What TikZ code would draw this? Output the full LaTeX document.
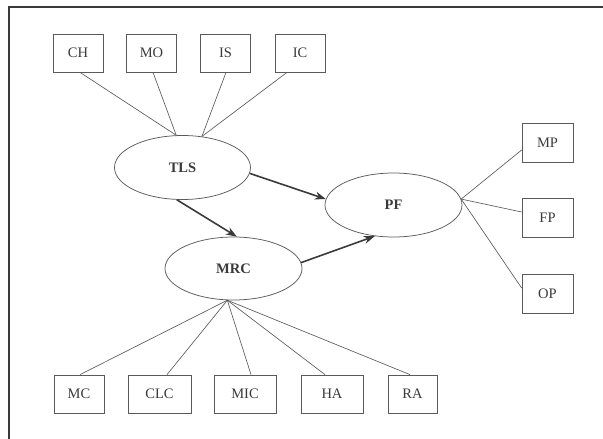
\documentclass[tikz,border=0pt]{standalone}
\usepackage{fontspec}
\setmainfont{Liberation Serif}
\usetikzlibrary{shapes.geometric,arrows.meta}
\definecolor{ink}{HTML}{3A3A3A}
\definecolor{thin}{HTML}{5A5A5A}
\begin{document}
\begin{tikzpicture}[x=1pt,y=-1pt,
  box/.style={draw=thin,line width=0.75pt,rectangle,inner sep=0pt,minimum height=38pt,text=ink,font=\fontsize{14.5}{17}\selectfont},
  lat/.style={draw=thin,line width=0.75pt,ellipse,inner sep=0pt,minimum width=136pt,minimum height=64pt,text=ink,font=\fontsize{14.5}{17}\selectfont\bfseries},
  link/.style={draw=thin,line width=0.65pt},
  path/.style={draw=ink,line width=1.6pt,-{Stealth[length=11pt,width=8pt]}}]
\useasboundingbox (0,0) rectangle (603,439);
\draw[draw=ink,line width=1.2pt] (9,447) -- (9,7) -- (612,7);
% latent variables
\node[lat] (TLS) at (182.5,167.5) {TLS};
\node[lat,minimum width=137pt] (PF) at (393.5,205) {PF};
\node[lat,minimum width=137pt,minimum height=63pt] (MRC) at (233.5,268.5) {MRC};
% top indicators
\node[box,minimum width=50pt] (CH) at (78,53) {CH};
\node[box,minimum width=50pt] (MO) at (151.5,53) {MO};
\node[box,minimum width=50pt] (IS) at (225.5,53) {IS};
\node[box,minimum width=50pt] (IC) at (300,53) {IC};
% right indicators
\node[box,minimum width=51pt,minimum height=39pt] (MP) at (547.5,142.5) {MP};
\node[box,minimum width=51pt,minimum height=39pt] (FP) at (547.5,218) {FP};
\node[box,minimum width=51pt,minimum height=39pt] (OP) at (547.5,293.5) {OP};
% bottom indicators
\node[box,minimum width=50pt] (MC) at (79,394) {MC};
\node[box,minimum width=63pt] (CLC) at (159.5,394) {CLC};
\node[box,minimum width=62pt] (MIC) at (245,394) {MIC};
\node[box,minimum width=62pt] (HA) at (332,394) {HA};
\node[box,minimum width=49pt] (RA) at (412.5,394) {RA};
% loadings
\draw[link] ([xshift=2pt]CH.south) -- (TLS.101);
\draw[link] ([xshift=1.5pt]MO.south) -- (TLS.101);
\draw[link] ([xshift=0.5pt]IS.south) -- (TLS.58);
\draw[link] ([xshift=-13pt]IC.south) -- (TLS.58);
\draw[link] (PF.5) -- ([yshift=-7.5pt]MP.west);
\draw[link] (PF.5) -- ([yshift=6pt]FP.west);
\draw[link] (PF.5) -- ([yshift=5.5pt]OP.west);
\draw[link] (MRC.259) -- ([xshift=1pt]MC.north);
\draw[link] (MRC.259) -- ([xshift=7.5pt]CLC.north);
\draw[link] (MRC.259) -- ([xshift=6pt]MIC.north);
\draw[link] (MRC.259) -- ([xshift=-7pt]HA.north);
\draw[link] (MRC.259) -- ([xshift=-2.5pt]RA.north);
% structural paths
\draw[path] (TLS.-5) -- (PF.175);
\draw[path] (TLS.260) -- (MRC.84);
\draw[path] (MRC.5) -- (PF.239);
\end{tikzpicture}
\end{document}
